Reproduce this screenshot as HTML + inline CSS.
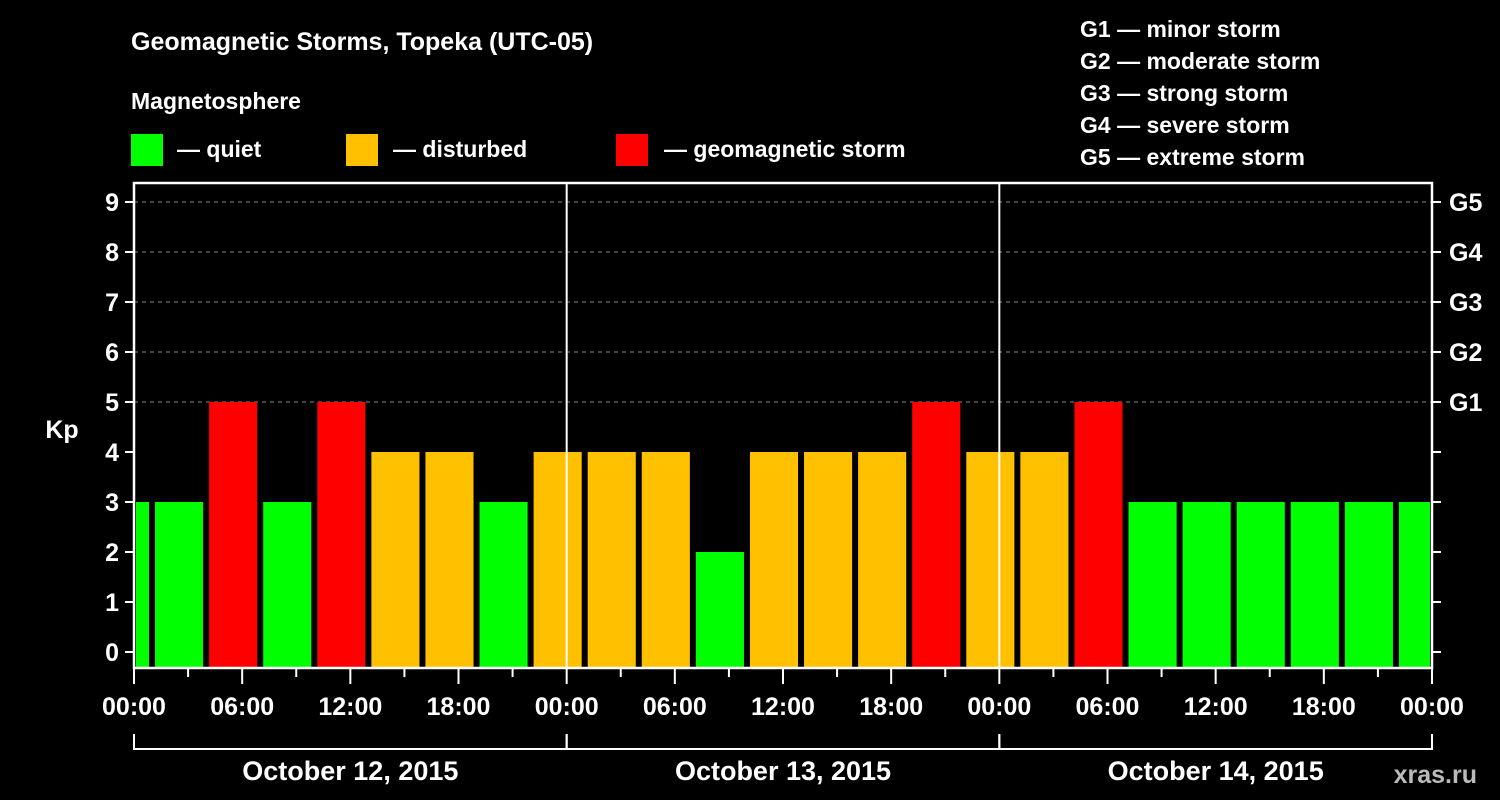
<!DOCTYPE html>
<html><head><meta charset="utf-8"><style>
html,body{margin:0;padding:0;background:#000;width:1500px;height:800px;overflow:hidden}
svg text{font-family:"Liberation Sans",Arial,sans-serif;font-weight:bold;fill:#fff}
</style></head><body>
<svg id="c" width="1500" height="800" xmlns="http://www.w3.org/2000/svg">
<rect width="1500" height="800" fill="#000"/>
<text x="131" y="50" font-size="25">Geomagnetic Storms, Topeka (UTC-05)</text>
<text x="131" y="109" font-size="23">Magnetosphere</text>
<g><rect x="131" y="134" width="32" height="32" fill="#00ff00"/><text x="177" y="157" font-size="23">— quiet</text></g>
<g><rect x="346" y="134" width="32" height="32" fill="#ffc000"/><text x="393" y="157" font-size="23">— disturbed</text></g>
<g><rect x="616" y="134" width="32" height="32" fill="#ff0000"/><text x="664" y="157" font-size="23">— geomagnetic storm</text></g>
<g font-size="23">
<text x="1080" y="37">G1 — minor storm</text>
<text x="1080" y="69">G2 — moderate storm</text>
<text x="1080" y="101">G3 — strong storm</text>
<text x="1080" y="133">G4 — severe storm</text>
<text x="1080" y="165">G5 — extreme storm</text>
</g>
<text x="62" y="438" font-size="25" text-anchor="middle">Kp</text>
<text x="1477" y="783" font-size="25" text-anchor="end" fill="#fff" style="fill:#bbb">xras.ru</text>
<g id="plot"></g>
</svg>
<script>
const kpValues=[3,3,5,3,5,4,4,3,4,4,4,2,4,4,4,5,4,4,5,3,3,3,3,3,3];
const startHour=-2;
const yTicks=[0,1,2,3,4,5,6,7,8,9];
const gLabels=["G1","G2","G3","G4","G5"];
const dayLabels=["October 12, 2015","October 13, 2015","October 14, 2015"];
const hourLabels=["00:00","06:00","12:00","18:00"];

const X0=134,X1=1432,TOP=183,BOT=668,HOURS=72;
const xs=h=>X0+(h/HOURS)*(X1-X0);
const ys=v=>652-50*v;
const NS="http://www.w3.org/2000/svg";
const g=document.getElementById('plot');
function mk(t,a,txt){const e=document.createElementNS(NS,t);for(const k in a)e.setAttribute(k,a[k]);if(txt!=null)e.textContent=txt;g.appendChild(e);return e;}
// grid
for(let v=5;v<=9;v++){const l=mk('line',{x1:X0,x2:X1,y1:ys(v),y2:ys(v),stroke:'#888','stroke-dasharray':'4,4','stroke-width':1});

}
// bars
kpValues.forEach((v,i)=>{
 let h0=startHour+3*i,h1=h0+3;
 let a=Math.max(xs(h0)+3,X0+2),b=Math.min(xs(h1)-3,X1-2);
 const col=v>=5?'#ff0000':(v>=4?'#ffc000':'#00ff00');
 const r=mk('rect',{x:a,y:ys(v),width:b-a,height:BOT-1-ys(v),fill:col});
 
 
});
// day separators
for(let d=1;d<3;d++){const l=mk('line',{x1:xs(24*d),x2:xs(24*d),y1:TOP,y2:BOT,stroke:'#fff','stroke-width':2});

}
// frame
const f=mk('rect',{x:X0,y:TOP,width:X1-X0,height:BOT-TOP,fill:'none',stroke:'#fff','stroke-width':2.5});


// y ticks
yTicks.forEach(v=>{
 mk('line',{x1:X0-9,x2:X0,y1:ys(v),y2:ys(v),stroke:'#fff','stroke-width':2});
 mk('line',{x1:X1,x2:X1+9,y1:ys(v),y2:ys(v),stroke:'#fff','stroke-width':2});
 const t=mk('text',{x:X0-15,y:ys(v)+9,'font-size':25,'text-anchor':'end'},String(v));
 
 
});
gLabels.forEach((s,i)=>{const t=mk('text',{x:1449,y:ys(5+i)+9,'font-size':25},s);

});
// x ticks
for(let h=0;h<=72;h+=3){const maj=h%6===0;mk('line',{x1:xs(h),x2:xs(h),y1:BOT,y2:BOT+(maj?16:9),stroke:'#fff','stroke-width':2});}
for(let h=0;h<=72;h+=6){const t=mk('text',{x:xs(h),y:715,'font-size':25,'text-anchor':'middle'},hourLabels[(h/6)%4]);

}
// day brackets
dayLabels.forEach((s,d)=>{
 const a=xs(24*d),b=xs(24*d+24);
 mk('path',{d:`M${a} 734V749H${b}V734`,fill:'none',stroke:'#fff','stroke-width':2});
 const t=mk('text',{x:(a+b)/2,y:780,'font-size':27,'text-anchor':'middle'},s);
 
 
});
</script>
</body></html>
